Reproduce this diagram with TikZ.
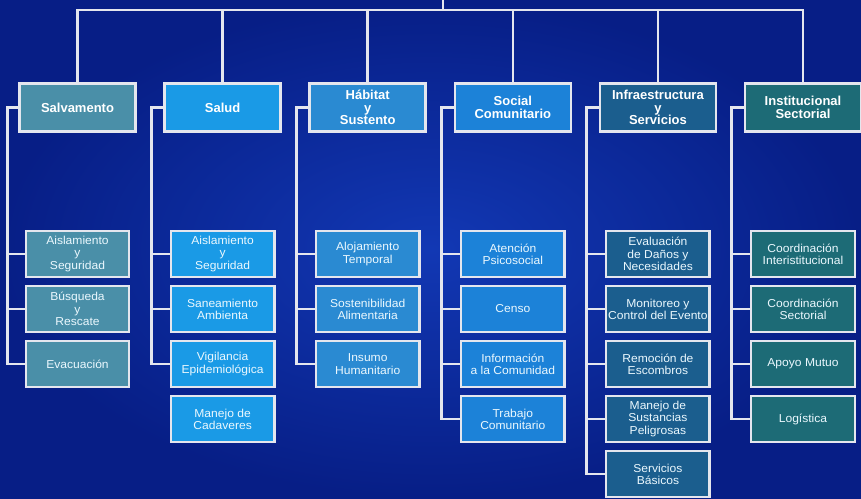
\documentclass[tikz,border=0pt]{standalone}
\usepackage{fontspec}
\setmainfont{Liberation Sans}
\newfontfamily\childfont[FakeStretch=1.05]{Liberation Sans}
\usetikzlibrary{calc}
\definecolor{bgIn}{HTML}{1238B4}
\definecolor{bgOut}{HTML}{071E86}
\definecolor{lineC}{HTML}{E4E6EE}
\definecolor{cSal}{HTML}{4A8FA8}
\definecolor{cSalud}{HTML}{1A9AE6}
\definecolor{cHab}{HTML}{2A8AD2}
\definecolor{cSoc}{HTML}{1C82D8}
\definecolor{cInf}{HTML}{1B5E8E}
\definecolor{cIns}{HTML}{1D6B76}
\begin{document}
\begin{tikzpicture}[x=1pt,y=-1pt,
  conn/.style={draw=lineC, line width=2.6pt},
  hbox/.style={draw=lineC, line width=2.6pt, minimum width=116pt, minimum height=48pt,
    text=white, align=center, inner sep=1pt,
    font=\fontsize{13}{12.3}\selectfont\bfseries},
  cbox/.style={draw=lineC, line width=2.4pt, minimum width=103.5pt, minimum height=46.5pt,
    text=white!92!cyan, align=center, inner sep=1pt,
    font=\childfont\fontsize{11.5}{12.2}\selectfont}]
\useasboundingbox (0,0) rectangle (861,498);
\shade[inner color=bgIn, outer color=bgOut] (0,0) rectangle (861,498);

% headers
\node[hbox, fill=cSal]   (h1) at (77.5,107.5)  {Salvamento};
\node[hbox, fill=cSalud] (h2) at (222.6,107.5) {Salud};
\node[hbox, fill=cHab]   (h3) at (367.7,107.5) {Hábitat\\y\\Sustento};
\node[hbox, fill=cSoc]   (h4) at (512.8,107.5) {Social\\Comunitario};
\node[hbox, fill=cInf]   (h5) at (657.9,107.5) {Infraestructura\\y\\Servicios};
\node[hbox, fill=cIns]   (h6) at (803,107.5)   {Institucional\\Sectorial};

% children
\node[cbox, fill=cSal] (c11) at (77.5,254) {Aislamiento\\y\\Seguridad};
\node[cbox, fill=cSal] (c12) at (77.5,309) {Búsqueda\\y\\Rescate};
\node[cbox, fill=cSal] (c13) at (77.5,364) {Evacuación};

\node[cbox, fill=cSalud] (c21) at (222.6,254) {Aislamiento\\y\\Seguridad};
\node[cbox, fill=cSalud] (c22) at (222.6,309) {Saneamiento\\Ambienta};
\node[cbox, fill=cSalud] (c23) at (222.6,364) {Vigilancia\\Epidemiológica};
\node[cbox, fill=cSalud] (c24) at (222.6,419) {Manejo de\\Cadaveres};

\node[cbox, fill=cHab] (c31) at (367.7,254) {Alojamiento\\Temporal};
\node[cbox, fill=cHab] (c32) at (367.7,309) {Sostenibilidad\\Alimentaria};
\node[cbox, fill=cHab] (c33) at (367.7,364) {Insumo\\Humanitario};

\node[cbox, fill=cSoc] (c41) at (512.8,254) {Atención\\Psicosocial};
\node[cbox, fill=cSoc] (c42) at (512.8,309) {Censo};
\node[cbox, fill=cSoc] (c43) at (512.8,364) {Información\\a la Comunidad};
\node[cbox, fill=cSoc] (c44) at (512.8,419) {Trabajo\\Comunitario};

\node[cbox, fill=cInf] (c51) at (657.9,254) {Evaluación\\de Daños y\\Necesidades};
\node[cbox, fill=cInf] (c52) at (657.9,309) {Monitoreo y\\Control del Evento};
\node[cbox, fill=cInf] (c53) at (657.9,364) {Remoción de\\Escombros};
\node[cbox, fill=cInf] (c54) at (657.9,419) {Manejo de\\Sustancias\\Peligrosas};
\node[cbox, fill=cInf] (c55) at (657.9,474) {Servicios\\Básicos};

\node[cbox, fill=cIns] (c61) at (803,254) {Coordinación\\Interistitucional};
\node[cbox, fill=cIns] (c62) at (803,309) {Coordinación\\Sectorial};
\node[cbox, fill=cIns] (c63) at (803,364) {Apoyo Mutuo};
\node[cbox, fill=cIns] (c64) at (803,419) {Logística};

% top bar
\coordinate (top) at (443,-3);
\coordinate (bar) at (443,10);
\draw[conn] (top) -- (bar);
\foreach \h in {h1,h2,h3,h4,h5,h6} \draw[conn] (bar) -| (\h.north);

% brackets
\coordinate (s1) at ($(h1.west)+(-11,0)$);
\draw[conn] (h1.west) -- (s1) |- (c13.west);
\foreach \c in {c11,c12} \draw[conn] (s1) |- (\c.west);

\coordinate (s2) at ($(h2.west)+(-12,0)$);
\draw[conn] (h2.west) -- (s2) |- (c23.west);
\foreach \c in {c21,c22} \draw[conn] (s2) |- (\c.west);

\coordinate (s3) at ($(h3.west)+(-12,0)$);
\draw[conn] (h3.west) -- (s3) |- (c33.west);
\foreach \c in {c31,c32} \draw[conn] (s3) |- (\c.west);

\coordinate (s4) at ($(h4.west)+(-12,0)$);
\draw[conn] (h4.west) -- (s4) |- (c44.west);
\foreach \c in {c41,c42,c43} \draw[conn] (s4) |- (\c.west);

\coordinate (s5) at ($(h5.west)+(-12,0)$);
\draw[conn] (h5.west) -- (s5) |- (c55.west);
\foreach \c in {c51,c52,c53,c54} \draw[conn] (s5) |- (\c.west);

\coordinate (s6) at ($(h6.west)+(-12,0)$);
\draw[conn] (h6.west) -- (s6) |- (c64.west);
\foreach \c in {c61,c62,c63} \draw[conn] (s6) |- (\c.west);
\end{tikzpicture}
\end{document}
